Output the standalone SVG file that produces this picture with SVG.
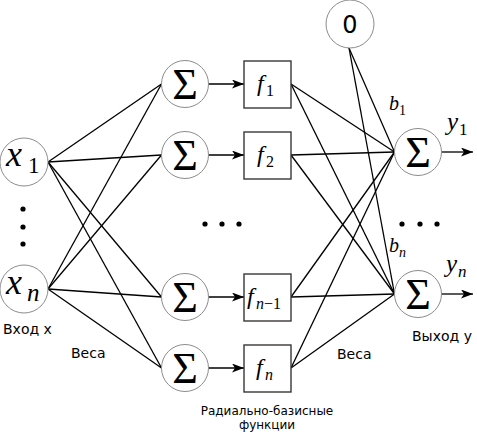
<svg xmlns="http://www.w3.org/2000/svg" width="477" height="432" viewBox="0 0 477 432">
<style>
.node{fill:#fff;stroke:#8c8c8c;stroke-width:1}
.box{fill:#fff;stroke:#3a3636;stroke-width:1.4}
.edge{stroke:#000;stroke-width:1.3;fill:none}
.arr{stroke:#000;stroke-width:1.3;fill:none;marker-end:url(#ah)}
.lbl{font-family:'DejaVu Sans',sans-serif;fill:#000}
.dot{fill:#000}
</style>
<defs>
<marker id="ah" markerUnits="userSpaceOnUse" markerWidth="14" markerHeight="10" refX="12" refY="4.5" orient="auto">
<path d="M0,0 L12,4.5 L0,9 L3,4.5 z" fill="#000"/>
</marker>
</defs>
<g id="connectors">
<line class="edge" x1="48" y1="162" x2="161.5" y2="84"/>
<line class="edge" x1="48" y1="162" x2="161.5" y2="155"/>
<line class="edge" x1="48" y1="162" x2="161.5" y2="297"/>
<line class="edge" x1="48" y1="162" x2="161.5" y2="368"/>
<line class="edge" x1="48" y1="289" x2="161.5" y2="84"/>
<line class="edge" x1="48" y1="289" x2="161.5" y2="155"/>
<line class="edge" x1="48" y1="289" x2="161.5" y2="297"/>
<line class="edge" x1="48" y1="289" x2="161.5" y2="368"/>
<line class="arr" x1="208.5" y1="84" x2="244" y2="84"/>
<line class="arr" x1="208.5" y1="155" x2="244" y2="155"/>
<line class="arr" x1="208.5" y1="297" x2="244" y2="297"/>
<line class="arr" x1="208.5" y1="368" x2="244" y2="368"/>
<line class="edge" x1="291" y1="84" x2="394.5" y2="152"/>
<line class="edge" x1="291" y1="84" x2="394.5" y2="294"/>
<line class="edge" x1="291" y1="155" x2="394.5" y2="152"/>
<line class="edge" x1="291" y1="155" x2="394.5" y2="294"/>
<line class="edge" x1="291" y1="297" x2="394.5" y2="152"/>
<line class="edge" x1="291" y1="297" x2="394.5" y2="294"/>
<line class="edge" x1="291" y1="368" x2="394.5" y2="152"/>
<line class="edge" x1="291" y1="368" x2="394.5" y2="294"/>
<line class="edge" x1="349" y1="48" x2="394.5" y2="152"/>
<line class="edge" x1="349" y1="48" x2="394.5" y2="294"/>
<line class="arr" x1="441.5" y1="152" x2="473" y2="152"/>
<line class="arr" x1="441.5" y1="294" x2="473" y2="294"/>
</g>
<g font-family="'Liberation Serif', 'Times New Roman', serif" fill="#000">
<g id="x1">
<circle class="node" cx="24" cy="162" r="24"/>
<text font-style="italic" x="6" y="166" font-size="36">x<tspan font-style="normal" x="28" y="173" font-size="23">1</tspan></text>
</g>
<g id="xn">
<circle class="node" cx="24" cy="289" r="24"/>
<text font-style="italic" x="6" y="294" font-size="36">x<tspan x="27" y="301" font-size="25">n</tspan></text>
</g>
<g id="s1"><circle class="node" cx="185" cy="84" r="23.5"/><text font-size="44" text-anchor="middle" x="185" y="99">Σ</text></g>
<g id="s2"><circle class="node" cx="185" cy="155" r="23.5"/><text font-size="44" text-anchor="middle" x="185" y="170">Σ</text></g>
<g id="s3"><circle class="node" cx="185" cy="297" r="23.5"/><text font-size="44" text-anchor="middle" x="185" y="312">Σ</text></g>
<g id="s4"><circle class="node" cx="185" cy="368" r="23.5"/><text font-size="44" text-anchor="middle" x="185" y="383">Σ</text></g>
<g id="f1"><rect class="box" x="244" y="61" width="47" height="47"/><text font-style="italic" x="257" y="91" font-size="24">f<tspan font-style="normal" x="266" y="96" font-size="16">1</tspan></text></g>
<g id="f2"><rect class="box" x="244" y="132" width="47" height="47"/><text font-style="italic" x="257" y="162" font-size="24">f<tspan font-style="normal" x="266" y="167" font-size="16">2</tspan></text></g>
<g id="fn1"><rect class="box" x="244" y="274" width="47" height="47"/><text font-style="italic" x="247" y="304" font-size="24">f<tspan x="256" y="309" font-size="16">n</tspan><tspan font-style="normal" font-size="16">−1</tspan></text></g>
<g id="fn"><rect class="box" x="244" y="345" width="47" height="47"/><text font-style="italic" x="256" y="375" font-size="24">f<tspan x="265" y="380" font-size="16">n</tspan></text></g>
<g id="zero"><circle class="node" cx="350" cy="24" r="24"/><text x="350" y="33" font-family="'DejaVu Sans',sans-serif" font-size="24" text-anchor="middle">0</text></g>
<g id="y1node"><circle class="node" cx="418" cy="152" r="23.5"/><text font-size="44" text-anchor="middle" x="418" y="167">Σ</text></g>
<g id="ynnode"><circle class="node" cx="418" cy="294" r="23.5"/><text font-size="44" text-anchor="middle" x="418" y="309">Σ</text></g>
<g id="math-labels">
<text font-style="italic" x="389" y="110" font-size="20">b<tspan font-style="normal" x="399" y="115" font-size="14">1</tspan></text>
<text font-style="italic" x="389" y="252" font-size="20">b<tspan x="399" y="257" font-size="14">n</tspan></text>
<text font-style="italic" x="447" y="130" font-size="25">y<tspan font-style="normal" x="459" y="135" font-size="17">1</tspan></text>
<text font-style="italic" x="446" y="272" font-size="25">y<tspan x="458" y="277" font-size="17">n</tspan></text>
</g>
</g>
<g id="input-dots">
<circle class="dot" cx="23" cy="209" r="2.6"/>
<circle class="dot" cx="23" cy="227" r="2.6"/>
<circle class="dot" cx="23" cy="244" r="2.6"/>
</g>
<g id="mid-dots">
<circle class="dot" cx="205" cy="224" r="2.6"/>
<circle class="dot" cx="222" cy="224" r="2.6"/>
<circle class="dot" cx="239" cy="224" r="2.6"/>
</g>
<g id="out-dots">
<circle class="dot" cx="402" cy="224" r="2.6"/>
<circle class="dot" cx="420" cy="224" r="2.6"/>
<circle class="dot" cx="437" cy="224" r="2.6"/>
</g>
<g id="labels">
<text class="lbl" x="3" y="334" font-size="14">Вход x</text>
<text class="lbl" x="71" y="358" font-size="14">Веса</text>
<text class="lbl" x="337" y="359" font-size="14">Веса</text>
<text class="lbl" x="412" y="341" font-size="14">Выход y</text>
<text class="lbl" x="267" y="415" font-size="12" text-anchor="middle">Радиально-базисные</text>
<text class="lbl" x="267" y="429" font-size="12" text-anchor="middle">функции</text>
</g>
</svg>
